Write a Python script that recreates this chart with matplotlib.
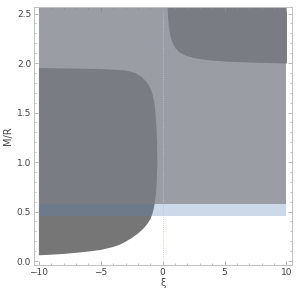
import numpy as np
import matplotlib
matplotlib.use("Agg")
import matplotlib.pyplot as plt

# boundary of lower-left region (closed outline)
left_xi = [-10, -9, -8, -7, -6, -5, -4, -3.5, -3, -2.5, -2, -1.6, -1.27, -1.0,
           -0.85, -0.72, -0.62, -0.53, -0.47, -0.43, -0.45, -0.52, -0.6, -0.7,
           -0.85, -1.05, -1.3, -1.7, -2.2, -3, -5, -10]
left_mr = [0.058, 0.064, 0.072, 0.083, 0.096, 0.112, 0.142, 0.163, 0.195, 0.232,
           0.278, 0.322, 0.37, 0.42, 0.47, 0.53, 0.6, 0.7, 0.82, 1.0, 1.2, 1.38,
           1.52, 1.62, 1.7, 1.76, 1.81, 1.86, 1.9, 1.925, 1.94, 1.95]

# lower boundary of upper-right region
right_xi = [0.34, 0.4, 0.47, 0.58, 0.75, 0.95, 1.3, 1.8, 2.5, 3.5, 5, 7, 10]
right_mr = [2.6, 2.45, 2.36, 2.28, 2.21, 2.16, 2.115, 2.08, 2.055, 2.035, 2.02, 2.01, 2.0]

xi_range = [-10, 10]
band_lo, band_hi = 0.45, 0.58   # light blue band
gray_lo, top = 0.58, 2.6

fig = plt.figure(figsize=(2.99, 2.88), dpi=100)
ax = fig.add_axes([0.1137, 0.0799, 0.8629, 0.8958])

dark = (118/255, 118/255, 118/255)
ax.fill(left_xi, left_mr, color=dark, lw=0, zorder=1)
ax.fill_between(right_xi, right_mr, top, color=dark, lw=0, zorder=1)

ax.fill_between(xi_range, gray_lo, top, color=(123/255, 127/255, 134/255), alpha=0.76, lw=0, zorder=2)
ax.fill_between(xi_range, band_lo, band_hi, color=(0.368, 0.507, 0.71), alpha=0.31, lw=0, zorder=2)

ax.axvline(0, color=(0.7, 0.78, 0.88), lw=0.6, ls=(0, (1, 1.5)), zorder=3)

ax.set_xlim(-10.4, 10.45)
ax.set_ylim(-0.04, 2.566)
ax.set_xticks([-10, -5, 0, 5, 10])
ax.set_xticks(np.arange(-10, 11, 1), minor=True)
ax.set_yticks([0.0, 0.5, 1.0, 1.5, 2.0, 2.5])
ax.set_yticks(np.arange(0, 2.6, 0.1), minor=True)
ax.set_yticklabels(["0.0", "0.5", "1.0", "1.5", "2.0", "2.5"])
ax.tick_params(which="both", direction="in", top=True, right=True, color="#b0b0b0",
               labelsize=6.5, labelcolor="#444444", pad=2)
ax.tick_params(which="major", length=3, width=0.6)
ax.tick_params(which="minor", length=1.6, width=0.5)
for s in ax.spines.values():
    s.set_color("#c0c0c0")
    s.set_linewidth(0.7)

ax.set_xlabel("ξ", fontsize=7, color="#444444", labelpad=1)
ax.set_ylabel("M/R", fontsize=7, color="#444444", labelpad=3)

fig.savefig("out.png", dpi=100)
